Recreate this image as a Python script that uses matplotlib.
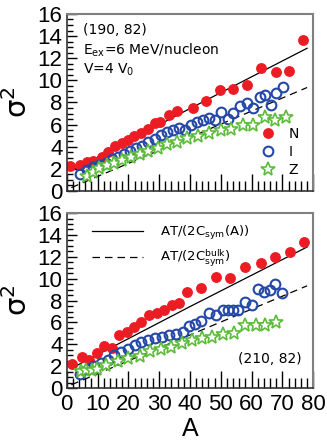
import numpy as np
import matplotlib
matplotlib.use("Agg")
import matplotlib.pyplot as plt
from matplotlib.ticker import MultipleLocator

# 上段 (190, 82)
top_n_a = [1.2, 4.3, 6.5, 8.6, 11.3, 13.3, 15.7, 17.8, 20, 21.8, 24, 26.3, 28.6, 30.3, 33.3, 35.7,
           40.9, 45.1, 49.6, 54, 58.6, 63.2, 67.8, 72.2, 76.6]
top_n_v = [2.26, 2.35, 2.59, 2.71, 3.1, 3.55, 4.1, 4.37, 4.6, 4.97, 5.2, 5.58, 6.1, 6.27, 6.9, 7.2,
           7.52, 8.12, 9.1, 9.2, 9.62, 11.12, 10.72, 10.86, 13.68]
top_i_a = [4.3, 6.5, 8.5, 10.6, 12.6, 14.7, 16.7, 18.6, 20.5, 22.5, 24.5, 26.5, 28.5, 30.5, 32.5, 34.5,
           36.5, 38.5, 40.3, 42.2, 44.3, 46.2, 48.1, 50.0, 52.3, 54, 56.2, 58.4, 60.5, 62.7, 64.5,
           66.3, 68, 70.1]
top_i_v = [1.5, 1.85, 2.15, 2.3, 2.55, 2.85, 3.05, 3.35, 3.6, 3.85, 4.1, 4.45, 4.65, 5.1, 5.3, 5.5,
           5.7, 5.5, 5.97, 6.27, 6.42, 6.6, 6.42, 7.17, 6.5, 7.02, 7.7, 7.95, 7.48, 8.5, 8.68,
           7.75, 8.89, 9.36]
top_z_a = [6.5, 8.5, 10.5, 13, 15.5, 18, 21, 23.8, 26.5, 29.5, 32.5, 35.7, 39, 42.7, 46.3, 50,
           53.3, 57.1, 60.5, 64.2, 67.5, 71.1]
top_z_v = [1.35, 1.75, 2.05, 2.3, 2.55, 2.8, 3.1, 3.35, 3.6, 3.9, 4.2, 4.45, 4.8, 4.95, 5.25, 5.55,
           5.62, 5.97, 6.0, 6.7, 6.42, 6.72]

# 下段 (210, 82)
bot_n_a = [1.6, 4.9, 7.2, 9.7, 12.1, 14.7, 17, 19.5, 21.9, 24.2, 26.8, 29.2, 31.5, 34.1, 36.3, 39.1,
           43.5, 48.5, 53.1, 57.8, 62.9, 67.6, 72.4, 77.1]
bot_n_v = [2.19, 2.86, 2.56, 3.25, 3.82, 3.65, 4.87, 5.12, 5.57, 6.03, 6.67, 6.9, 7.18, 7.59, 7.82, 8.75,
           9.11, 10.11, 10.03, 11.09, 11.4, 11.95, 12.4, 13.37]
bot_i_a = [4.4, 6.8, 8.9, 11.1, 13.3, 15.5, 17.6, 19.8, 22, 24.2, 26.5, 28.8, 31, 33.2, 35.4, 37.6,
           39.6, 41.5, 43.6, 46.2, 48.5, 50.8, 52.4, 54, 55.7, 57.8, 60, 62.2, 64.1, 66, 67.6, 69.8]
bot_i_v = [1.3, 1.78, 1.98, 2.26, 2.6, 3.0, 3.3, 3.6, 3.93, 4.2, 4.4, 4.55, 4.7, 4.84, 4.95, 5.1,
           5.65, 5.9, 6.12, 6.83, 6.67, 7.13, 7.13, 7.13, 7.13, 7.83, 7.59, 9.05, 8.75, 8.96, 9.48, 8.66]
bot_z_a = [4.5, 6.3, 8.1, 9.9, 12.9, 16.5, 20, 23.8, 27, 30.7, 34, 37.5, 40.7, 44, 47.3, 50.7,
           54.2, 58, 61.3, 64.5, 67.8]
bot_z_v = [1.6, 1.65, 1.68, 1.75, 2.15, 2.45, 2.75, 2.97, 3.38, 3.55, 3.8, 4.08, 4.35, 4.57, 4.69, 4.9,
           5.0, 5.76, 5.76, 5.8, 6.0]

# 理論線
csym_a = [2.5, 40, 78]
csym_v = [1.95, 7.45, 12.9]
bulk_a = [1.5, 78]
bulk_v = [0.3, 9.35]

RED = "#ec1c24"
BLUE = "#2548a8"
GREEN = "#5cbb3a"
TICKFONT = "Liberation Sans"

fig = plt.figure(figsize=(3.27, 4.43), dpi=100)
ax1 = fig.add_axes([0.204, 0.569, 0.754, 0.3995])
ax2 = fig.add_axes([0.204, 0.124, 0.754, 0.395])

def setupAxis(ax, show_x):
    ax.set_xlim(0, 80)
    ax.set_ylim(0, 16)
    ax.xaxis.set_major_locator(MultipleLocator(10))
    ax.xaxis.set_minor_locator(MultipleLocator(2))
    ax.yaxis.set_major_locator(MultipleLocator(2))
    ax.yaxis.set_minor_locator(MultipleLocator(0.5))
    ax.tick_params(axis="x", which="major", direction="in", length=12, width=1, pad=4,
                   top=False, labelbottom=show_x)
    ax.tick_params(axis="x", which="minor", direction="in", length=7, width=1, top=False)
    ax.tick_params(axis="y", which="major", direction="in", length=7, width=1, pad=3, right=False)
    ax.tick_params(axis="y", which="minor", direction="in", length=4, width=1, right=False)
    for lab in ax.get_xticklabels() + ax.get_yticklabels():
        lab.set_fontfamily(TICKFONT)
        lab.set_fontsize(16)
    for s in ["left", "bottom"]:
        ax.spines[s].set_color("#333333")
        ax.spines[s].set_linewidth(1.2)
    for s in ["right", "top"]:
        ax.spines[s].set_color("#808080")
        ax.spines[s].set_linewidth(1.5)
    ax.set_ylabel(r"σ$^{2}$", fontsize=21, family="DejaVu Sans", labelpad=3)

def plotData(ax, na, nv, ia, iv, za, zv):
    ax.plot(csym_a, csym_v, color="black", lw=0.9, label=r"AT/(2C$_{\rm sym}$(A))")
    ax.plot(bulk_a, bulk_v, color="black", lw=0.9, ls=(0, (6, 4)),
            label=r"AT/(2C$_{\rm sym}^{\rm bulk}$)")
    n = ax.plot(na, nv, "o", ms=6.8, color=RED, mec=RED, label="N")[0]
    i = ax.plot(ia, iv, "o", ms=7, mfc="none", mec=BLUE, mew=1.5, label="I")[0]
    z = ax.plot(za, zv, "*", ms=10, mfc="white", mec=GREEN, mew=1.2, label="Z")[0]
    return n, i, z

n1, i1, z1 = plotData(ax1, top_n_a, top_n_v, top_i_a, top_i_v, top_z_a, top_z_v)
plotData(ax2, bot_n_a, bot_n_v, bot_i_a, bot_i_v, bot_z_a, bot_z_v)
setupAxis(ax1, False)
setupAxis(ax2, True)

ax1.legend(handles=[n1, i1, z1], loc="lower right", bbox_to_anchor=(0.97, 0.04), frameon=False,
           handlelength=1.0, handletextpad=1.0, labelspacing=0.3, borderpad=0,
           prop={"family": "DejaVu Sans", "size": 10})
lines = ax2.get_lines()[:2]
ax2.legend(handles=lines, loc="upper left", bbox_to_anchor=(0.075, 0.975), frameon=False,
           handlelength=3.9, handletextpad=1.3, labelspacing=0.45, borderpad=0,
           prop={"family": "DejaVu Sans", "size": 9.5})

ax1.text(0.066, 0.91, "(190, 82)", transform=ax1.transAxes, fontsize=10, va="center",
         family="DejaVu Sans")
ax1.text(0.066, 0.797, r"E$_{\rm ex}$=6 MeV/nucleon", transform=ax1.transAxes, fontsize=10,
         va="center", family="DejaVu Sans")
ax1.text(0.066, 0.684, r"V=4 V$_{\rm 0}$", transform=ax1.transAxes, fontsize=10, va="center",
         family="DejaVu Sans")
ax2.text(0.954, 0.166, "(210, 82)", transform=ax2.transAxes, fontsize=10, va="center", ha="right",
         family="DejaVu Sans")

ax2.set_xlabel("A", fontsize=18, family=TICKFONT, labelpad=2)

fig.savefig("out.png", dpi=100)
